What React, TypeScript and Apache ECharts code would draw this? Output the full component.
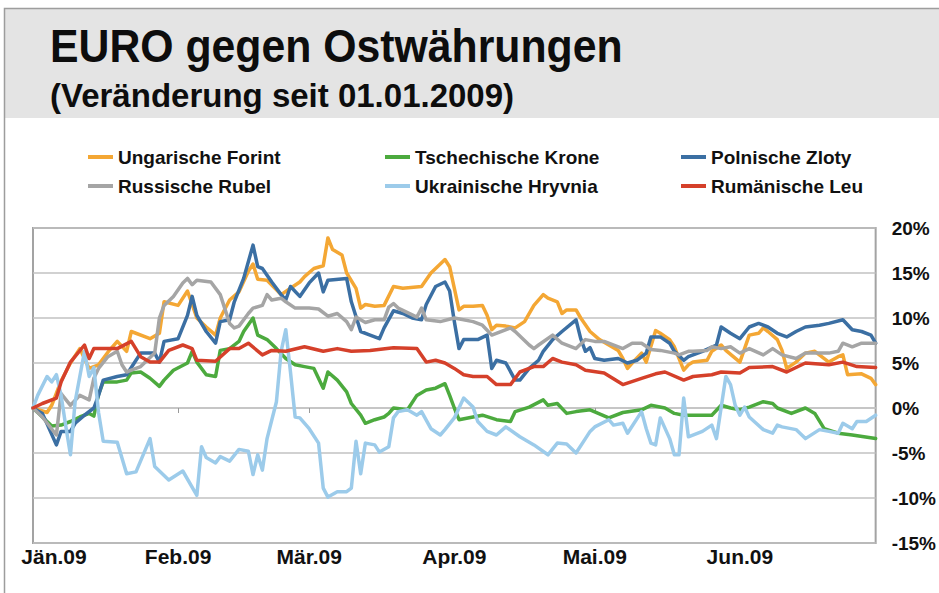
import React, { useEffect, useRef } from 'react';
import * as echarts from 'echarts';

// x values are days since 01.01.2009
const monthDays = [0, 31, 59, 90, 120, 151];
const monthLabels = ['Jän.09', 'Feb.09', 'Mär.09', 'Apr.09', 'Mai.09', 'Jun.09'];

const seriesNames = [
  'Ungarische Forint',
  'Tschechische Krone',
  'Polnische Zloty',
  'Russische Rubel',
  'Ukrainische Hryvnia',
  'Rumänische Leu',
];
const seriesColors = ['#f4a734', '#4caa3e', '#3b6fa3', '#a5a5a5', '#9ccbea', '#d5402a'];

const forint: [number, number][] = [
  [0, 0], [3, -0.5], [4, 0.3], [6, 3.0], [8, 5.0], [10, 6.6], [11, 5.5], [12, 4.4], [14, 4.8], [16, 6.2],
  [18, 7.4], [20, 6.3], [21, 8.5], [25, 7.7], [27, 8.3], [28, 11.8], [31, 11.4], [33, 13.0], [35, 10.0], [37, 9.0],
  [39, 8.1], [40, 10.0], [42, 12.0], [44, 12.9], [46, 15.2], [47, 16.0], [48, 14.3], [50, 14.2], [53, 12.6], [55, 13.3],
  [57, 14.0], [58, 14.6], [60, 15.5], [62, 15.8], [63, 18.9], [64, 17.6], [66, 17.0], [67, 15.0], [69, 13.3], [70, 11.1],
  [71, 11.5], [73, 11.3], [75, 11.4], [77, 13.5], [79, 13.3], [83, 13.5], [85, 15.0], [88, 16.5], [89, 15.7], [91, 10.9],
  [92, 11.3], [94, 11.3], [96, 11.4], [97, 10.3], [98, 8.7], [99, 9.2], [101, 9.1], [103, 8.9], [105, 9.6], [107, 11.4],
  [109, 12.6], [110, 12.2], [112, 11.8], [113, 10.5], [114, 10.9], [116, 10.9], [117, 10.0], [119, 8.5], [121, 7.6], [123, 7.0],
  [125, 6.4], [126, 5.5], [127, 4.4], [128, 5.0], [130, 6.1], [131, 5.1], [133, 8.6], [134, 8.3], [136, 7.6], [137, 6.8],
  [139, 4.2], [140, 4.8], [141, 5.1], [144, 5.3], [145, 6.3], [147, 7.0], [148, 6.4], [151, 5.1], [153, 8.1], [155, 8.3],
  [156, 8.9], [157, 8.5], [159, 7.6], [160, 6.4], [161, 4.4], [163, 5.1], [165, 6.1], [167, 6.3], [170, 5.1], [172, 5.7],
  [173, 5.9], [174, 3.7], [177, 3.8], [179, 3.3], [180, 2.6],
];

const krone: [number, number][] = [
  [0, 0], [2, -1.0], [4, -2.0], [6, -1.9], [8, -1.5], [10, -1.0], [12, -0.6], [13, -0.9], [14, 1.5], [15, 2.9],
  [18, 2.9], [20, 3.1], [21, 3.9], [23, 4.0], [25, 3.3], [27, 2.4], [28, 3.1], [30, 4.2], [33, 5.0], [34, 6.3],
  [35, 5.1], [37, 3.7], [39, 3.5], [40, 6.4], [42, 6.6], [44, 7.4], [45, 8.5], [47, 10.0], [48, 8.1], [50, 7.6],
  [52, 6.6], [54, 5.5], [56, 4.8], [58, 4.6], [60, 4.4], [62, 2.2], [63, 4.0], [65, 3.1], [67, 1.8], [68, 0.5],
  [70, -0.8], [71, -1.7], [73, -1.3], [75, -1.0], [76, -0.6], [77, 0], [80, -0.2], [82, 1.4], [84, 2.0], [86, 2.2],
  [88, 2.7], [89, 1.4], [90, 0], [91, -1.3], [94, -1.0], [96, -0.8], [99, -1.3], [102, -1.5], [103, -0.4], [106, 0.1],
  [109, 0.9], [110, 0.3], [112, 0.5], [114, -0.6], [116, -0.4], [119, -0.2], [123, -1.1], [126, -0.5], [130, -0.2], [132, 0.3],
  [135, 0], [137, -0.6], [139, -0.8], [145, -0.8], [147, 0.3], [149, 0], [151, -0.2], [153, 0.1], [156, 0.7], [158, 0.5],
  [159, 0], [162, -0.6], [165, 0], [167, -0.6], [169, -2.3], [172, -2.8], [175, -3.0], [180, -3.4],
];

const zloty: [number, number][] = [
  [0, 0], [2, -0.6], [5, -4.1], [6, -2.6], [8, -2.6], [9, -1.7], [11, -0.8], [13, 0], [14, 1.4], [15, 3.1],
  [18, 3.5], [20, 3.7], [22, 5.3], [23, 6.1], [26, 6.1], [27, 5.1], [28, 7.4], [31, 7.7], [33, 10.3], [34, 12.4],
  [35, 10.3], [37, 8.5], [39, 7.2], [40, 9.6], [42, 9.8], [43, 11.8], [45, 14.4], [47, 18.1], [48, 15.7], [49, 15.5],
  [51, 14.0], [53, 12.6], [54, 12.0], [55, 13.5], [57, 12.4], [59, 13.9], [61, 15.0], [62, 12.9], [63, 14.2], [67, 14.4],
  [68, 11.8], [70, 8.5], [72, 8.1], [74, 7.7], [75, 8.9], [77, 10.8], [79, 10.5], [81, 10.0], [83, 9.8], [84, 11.5],
  [86, 13.5], [88, 14.0], [89, 13.0], [90, 9.6], [91, 6.6], [92, 7.6], [95, 7.6], [97, 8.1], [98, 4.4], [99, 5.3],
  [101, 5.0], [103, 3.1], [104, 3.1], [106, 4.4], [108, 5.3], [109, 6.3], [111, 7.6], [113, 8.5], [116, 9.8], [117, 7.7],
  [118, 6.3], [119, 6.7], [120, 5.5], [122, 5.3], [125, 5.5], [127, 5.0], [129, 5.3], [131, 6.1], [132, 7.9], [134, 7.9],
  [136, 7.2], [137, 6.3], [139, 5.3], [140, 5.7], [143, 6.3], [146, 7.0], [147, 9.0], [149, 8.3], [151, 7.7], [153, 9.0],
  [155, 9.4], [157, 9.0], [159, 8.3], [161, 7.9], [163, 8.5], [165, 9.0], [168, 9.2], [170, 9.4], [173, 9.8], [175, 8.7],
  [177, 8.5], [179, 8.1], [180, 7.2],
];

const rubel: [number, number][] = [
  [0, 0], [2, -1.0], [5, -3.0], [6, 1.6], [8, 0.3], [10, 1.4], [12, 0.9], [13, 3.3], [14, 4.4], [16, 5.7],
  [18, 6.3], [19, 4.8], [20, 4.0], [21, 4.2], [23, 4.6], [26, 6.1], [27, 10.0], [28, 11.4], [30, 12.4], [32, 13.9],
  [33, 14.4], [34, 13.7], [35, 14.2], [38, 14.0], [40, 12.6], [42, 9.4], [43, 8.9], [44, 9.1], [46, 10.5], [47, 11.1],
  [49, 11.4], [50, 12.6], [51, 12.0], [53, 12.2], [54, 11.8], [56, 11.1], [59, 11.1], [61, 11.0], [63, 10.2], [65, 10.5],
  [67, 9.6], [68, 8.7], [69, 10.1], [71, 9.5], [73, 9.8], [75, 9.8], [76, 11.2], [77, 11.6], [78, 11.1], [82, 10.1],
  [83, 11.1], [84, 9.8], [87, 9.6], [90, 10.0], [94, 9.6], [96, 9.2], [98, 8.1], [102, 8.9], [103, 8.5], [106, 7.0],
  [107, 6.6], [108, 7.0], [111, 8.1], [113, 7.2], [116, 6.6], [118, 7.6], [120, 7.4], [122, 7.4], [126, 6.6], [128, 7.2],
  [130, 7.2], [132, 6.5], [134, 6.4], [137, 6.1], [138, 5.9], [140, 6.3], [141, 6.3], [144, 6.4], [145, 6.8], [147, 6.6],
  [149, 6.8], [151, 6.1], [153, 6.6], [156, 5.9], [158, 6.6], [160, 5.9], [163, 5.5], [165, 6.1], [167, 6.1], [170, 6.1],
  [172, 6.3], [173, 7.2], [175, 6.8], [177, 7.2], [180, 7.2],
];

const hryvnia: [number, number][] = [
  [0, 0], [1, 1.4], [3, 3.5], [4, 2.9], [5, 3.7], [6, 1.4], [7, -2.0], [8, -5.2], [9, 0.7], [11, 6.3],
  [12, 3.5], [13, 4.5], [14, -0.5], [15, -3.7], [18, -3.8], [20, -7.3], [22, -7.1], [25, -3.4], [26, -6.5], [29, -8.0],
  [32, -7.0], [35, -9.7], [36, -4.3], [37, -5.5], [39, -6.1], [40, -5.4], [42, -5.9], [44, -4.6], [46, -4.8], [47, -7.4],
  [48, -5.2], [49, -6.9], [50, -3.4], [52, 0.7], [53, 6.3], [54, 8.7], [55, 4.0], [56, -1.0], [57, -1.1], [59, -2.3],
  [61, -3.9], [62, -8.9], [63, -9.9], [65, -9.3], [67, -9.3], [68, -8.9], [69, -3.7], [70, -7.3], [71, -3.9], [73, -4.1],
  [74, -4.9], [76, -4.3], [77, -1.1], [78, -0.4], [80, -0.2], [82, -0.8], [83, -0.4], [85, -2.3], [87, -3.0], [88, -2.4],
  [90, -1.1], [92, 1.1], [94, 0.1], [95, -1.5], [97, -2.6], [99, -3.0], [101, -2.1], [104, -3.2], [107, -4.1], [110, -5.2],
  [112, -3.9], [114, -4.0], [116, -5.0], [118, -3.4], [119, -2.6], [120, -2.1], [123, -1.3], [124, -1.9], [126, -1.7], [127, -2.8],
  [130, -0.4], [131, -2.3], [132, -3.9], [133, -4.1], [134, -1.1], [136, -3.4], [137, -5.2], [138, -5.2], [139, 1.1], [140, -3.2],
  [143, -2.6], [145, -1.9], [146, -3.4], [148, 3.5], [149, 2.6], [150, 0.3], [151, -0.8], [152, 0.1], [153, -1.0], [156, -2.4],
  [158, -2.8], [159, -1.9], [160, -2.1], [163, -2.4], [165, -3.4], [168, -2.4], [170, -2.6], [172, -2.8], [173, -1.7], [175, -2.3],
  [176, -1.5], [178, -1.5], [180, -0.8],
];

const leu: [number, number][] = [
  [0, 0], [2, 0.5], [5, 1.1], [6, 2.9], [8, 5.1], [11, 7.0], [12, 5.5], [13, 6.6], [18, 6.6], [21, 7.4],
  [23, 5.7], [25, 5.1], [27, 5.1], [29, 6.4], [32, 7.0], [34, 6.6], [35, 5.3], [39, 5.2], [42, 6.6], [44, 6.6],
  [46, 7.2], [49, 5.9], [51, 6.4], [54, 6.3], [58, 6.8], [62, 6.3], [65, 6.6], [68, 6.3], [72, 6.4], [77, 6.7],
  [82, 6.6], [84, 5.1], [86, 5.3], [88, 5.0], [90, 4.4], [92, 3.7], [94, 3.5], [97, 3.5], [99, 2.6], [102, 2.6],
  [104, 4.0], [107, 4.6], [109, 4.6], [111, 5.5], [113, 5.1], [116, 4.8], [118, 4.2], [122, 3.9], [126, 2.6], [130, 3.3],
  [133, 3.8], [135, 4.0], [139, 3.1], [141, 3.5], [145, 3.7], [147, 4.0], [151, 3.9], [153, 4.5], [158, 4.6], [161, 4.0],
  [165, 5.0], [170, 4.8], [173, 5.1], [176, 4.6], [180, 4.5],
];

const seriesData = [forint, krone, zloty, rubel, hryvnia, leu];

const FONT = '"Liberation Sans", Arial, Helvetica, sans-serif';

export default function App() {
  const ref = useRef<HTMLDivElement>(null);

  useEffect(() => {
    if (!ref.current) return;
    const chart = echarts.init(ref.current, undefined, { renderer: 'svg' });

    const legendText = { fontSize: 19, fontWeight: 'bold', color: '#111', fontFamily: FONT, lineHeight: 20 };
    const legendBase = {
      orient: 'vertical',
      icon: 'rect',
      itemWidth: 25,
      itemHeight: 4,
      itemGap: 9,
      padding: 0,
      top: 147,
      textStyle: legendText,
      selectedMode: false,
    };

    const option: any = {
      animation: false,
      backgroundColor: '#ffffff',
      graphic: [
        {
          type: 'rect',
          z: -10,
          shape: { x: 5, y: 9, width: 934, height: 109 },
          style: { fill: '#e4e4e4' },
        },
        {
          type: 'polyline',
          z: -9,
          shape: { points: [[4.5, 593], [4.5, 8.5], [939, 8.5]] },
          style: { stroke: '#9d9d9d', lineWidth: 1.5, fill: null },
        },
        {
          type: 'text',
          x: 50,
          y: 46,
          scaleX: 0.91,
          style: {
            text: 'EURO gegen Ostwährungen',
            fontSize: 47,
            fontWeight: 'bold',
            fontFamily: FONT,
            fill: '#0d0d0d',
            verticalAlign: 'middle',
            align: 'left',
          },
        },
        {
          type: 'text',
          x: 50,
          y: 95,
          style: {
            text: '(Veränderung seit 01.01.2009)',
            fontSize: 33,
            fontWeight: 'bold',
            fontFamily: FONT,
            fill: '#0d0d0d',
            verticalAlign: 'middle',
            align: 'left',
          },
        },
      ],
      legend: [
        { ...legendBase, left: 88, data: [seriesNames[0], seriesNames[3]] },
        { ...legendBase, left: 385, data: [seriesNames[1], seriesNames[4]] },
        { ...legendBase, left: 681, data: [seriesNames[2], seriesNames[5]] },
      ],
      grid: {
        left: 33,
        top: 228,
        right: 53,
        bottom: 50,
        show: true,
        borderColor: '#a3a3a3',
        borderWidth: 2,
        backgroundColor: 'transparent',
      },
      xAxis: [
        {
          type: 'value',
          min: 0,
          max: 180,
          position: 'bottom',
          axisLine: { show: false, onZero: false },
          axisTick: { show: false },
          splitLine: { show: false },
          axisLabel: {
            customValues: monthDays,
            margin: 3,
            fontSize: 21,
            fontWeight: 'bold',
            color: '#111',
            fontFamily: FONT,
            formatter: (v: number) => {
              const i = monthDays.indexOf(Math.round(v));
              if (i < 0) return '';
              return i === 0 ? '{first|' + monthLabels[i] + '}' : monthLabels[i];
            },
            rich: {
              first: {
                fontSize: 21,
                fontWeight: 'bold',
                color: '#111',
                fontFamily: FONT,
                padding: [0, 0, 0, 42],
              },
            },
          },
        },
        {
          type: 'value',
          min: 0,
          max: 180,
          position: 'top',
          axisLine: { show: true, onZero: true, lineStyle: { color: '#c2c2c2', width: 1.5 } },
          axisTick: {
            show: true,
            customValues: monthDays,
            inside: true,
            length: 5,
            lineStyle: { color: '#9a9a9a', width: 1 },
          },
          axisLabel: { show: false },
          splitLine: { show: false },
        },
      ],
      yAxis: {
        type: 'value',
        position: 'right',
        min: -15,
        max: 20,
        interval: 5,
        axisLine: { show: false },
        axisTick: { show: false },
        splitLine: { lineStyle: { color: '#c2c2c2', width: 1.5 } },
        axisLabel: {
          formatter: '{value}%',
          fontSize: 19,
          fontWeight: 'bold',
          color: '#111',
          fontFamily: FONT,
          margin: 16,
        },
      },
      series: seriesNames.map((name, i) => ({
        name,
        type: 'line',
        xAxisIndex: 0,
        yAxisIndex: 0,
        data: seriesData[i],
        showSymbol: false,
        symbol: 'none',
        color: seriesColors[i],
        lineStyle: { width: 3.5, color: seriesColors[i], join: 'round', cap: 'round' },
        z: 2 + i,
      })),
    };

    chart.setOption(option);
    return () => {
      chart.dispose();
    };
  }, []);

  return (
    <div
      ref={ref}
      style={{ position: 'absolute', left: 0, top: 0, width: 939, height: 593 }}
    />
  );
}
